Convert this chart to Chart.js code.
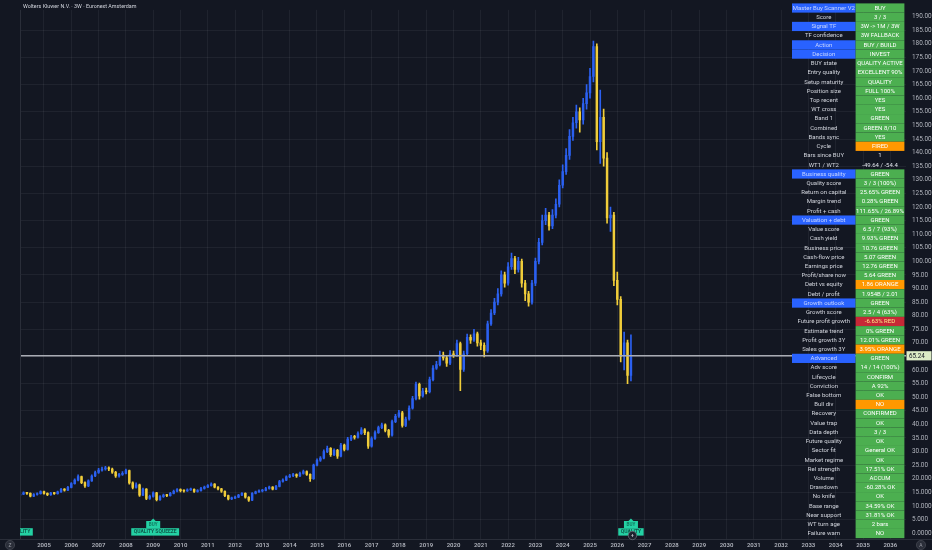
<!DOCTYPE html>
<html>
<head>
<meta charset="utf-8">
<script src="https://cdn.jsdelivr.net/npm/chart.js@4.4.1/dist/chart.umd.min.js"></script>
<style>
  html, body { margin: 0; padding: 0; background: #131722; }
  #wrap { width: 932px; height: 550px; position: relative; }
</style>
</head>
<body>
<div id="wrap"><canvas id="price-chart"></canvas></div>
<script>
const chartTitle = 'Wolters Kluwer N.V. · 3W · Euronext Amsterdam';

// candles (one candle per 1/8 year)
const firstBarYear = 2004.125;
const barsPerYear = 8;
const firstOpen = 14.0;
const closes = [
  14.3, 14.8, 14.6, 13.6, 14.2, 14.5, 15.3, 14.6, 14.1, 14.7,
  14.5, 15.2, 16.1, 15.8, 16.8, 18.2, 19.5, 20.8, 18.6, 17.4,
  19.2, 21.0, 22.3, 23.2, 23.6, 24.0, 23.6, 22.4, 21.0, 21.6,
  22.0, 23.0, 18.5, 16.8, 17.8, 14.0, 16.2, 12.8, 13.5, 14.8,
  12.3, 13.4, 14.0, 13.8, 14.6, 15.4, 16.0, 15.6, 15.5, 15.9,
  16.1, 15.3, 15.6, 16.4, 16.9, 17.5, 18.0, 16.9, 16.3, 15.4,
  13.8, 12.6, 12.9, 13.2, 14.0, 14.6, 13.2, 12.1, 14.6, 15.2,
  15.5, 15.7, 16.4, 16.9, 16.2, 17.2, 19.0, 19.5, 20.7, 21.1,
  21.5, 21.0, 22.0, 22.6, 21.6, 20.0, 25.0, 26.8, 27.6, 30.0,
  31.2, 28.9, 30.5, 28.3, 32.4, 30.8, 34.6, 35.3, 35.2, 36.6,
  38.0, 37.0, 32.0, 34.8, 37.0, 38.8, 39.8, 37.8, 36.0, 41.0,
  43.0, 44.3, 39.6, 42.0, 46.0, 49.5, 54.7, 50.5, 52.3, 52.0,
  56.5, 60.7, 62.0, 65.5, 64.5, 62.5, 66.0, 65.5, 69.7, 60.2,
  66.0, 72.0, 71.0, 73.3, 70.0, 69.1, 67.0, 77.0, 81.0, 85.0,
  88, 95, 92, 98, 101, 97, 100, 92, 88, 85,
  92, 100, 107, 115, 117, 113, 117, 121, 128, 133,
  139, 146, 151, 155, 152, 158, 162, 168, 179, 144,
  153, 138, 116, 117, 93, 86, 65, 70, 58, 65.24
];
const highs = [
  14.8, 15.2, 15.0, 14.8, 14.5, 14.8, 15.6, 15.5, 14.8, 15.0,
  15.0, 15.5, 16.5, 16.4, 17.2, 18.6, 20.0, 21.4, 21.0, 18.9,
  19.6, 21.4, 22.8, 23.8, 24.3, 24.6, 24.4, 23.9, 22.7, 22.0,
  22.6, 23.6, 23.2, 18.9, 18.5, 18.0, 16.6, 16.4, 14.0, 15.2,
  15.0, 13.8, 14.4, 14.3, 15.0, 15.8, 16.4, 16.3, 15.9, 16.3,
  16.6, 16.3, 16.0, 16.8, 17.3, 17.9, 18.5, 18.2, 17.1, 16.5,
  15.6, 14.0, 13.3, 13.6, 14.3, 14.9, 14.8, 13.4, 14.9, 15.5,
  15.9, 16.1, 16.8, 17.3, 17.1, 17.6, 19.4, 20.0, 21.1, 21.6,
  22.0, 21.8, 22.5, 23.2, 22.9, 21.8, 25.4, 27.3, 28.2, 30.6,
  32.0, 31.5, 31.0, 30.8, 33.0, 32.8, 35.2, 36.0, 36.0, 37.3,
  38.8, 38.5, 37.3, 35.4, 37.6, 39.4, 40.5, 40.2, 38.2, 41.6,
  43.7, 45.2, 44.8, 42.7, 46.8, 50.3, 55.6, 55.2, 53.3, 53.4,
  57.4, 61.6, 63.2, 67.0, 66.6, 65.0, 67.2, 67.0, 71.0, 70.3,
  67.0, 73.2, 73.0, 75.0, 74.0, 71.0, 70.0, 78.0, 82.2, 86.4,
  90.0, 96.5, 96.0, 99.5, 103.0, 101.8, 101.5, 100.8, 93.0, 89.0,
  93.0, 101.2, 108.5, 117.0, 119.5, 118.0, 119.0, 123.0, 130.0, 135.5,
  141.5, 148.5, 153.0, 157.5, 156.5, 160.0, 165.0, 171.0, 181.0, 180.0,
  163.0, 156.0, 140.0, 120.0, 118.0, 96.0, 87.0, 74.0, 71.0, 73.0
];
const lows = [
  13.8, 14.1, 14.2, 13.3, 13.4, 14.0, 14.3, 14.3, 13.8, 13.9,
  14.2, 14.3, 15.0, 15.4, 15.6, 16.6, 18.0, 19.2, 18.2, 16.8,
  17.1, 19.0, 20.8, 22.0, 22.8, 23.2, 23.0, 22.0, 20.5, 20.6,
  21.2, 21.8, 18.0, 16.3, 16.5, 13.5, 13.8, 12.3, 12.4, 13.2,
  11.8, 12.0, 13.1, 13.4, 13.6, 14.4, 15.2, 15.2, 15.1, 15.3,
  15.7, 15.0, 15.1, 15.4, 16.2, 16.7, 17.3, 16.6, 15.9, 15.0,
  13.4, 12.2, 12.3, 12.7, 13.0, 13.8, 12.9, 11.7, 11.9, 14.4,
  15.0, 15.2, 15.5, 16.2, 15.9, 16.0, 17.0, 18.7, 19.3, 20.4,
  20.8, 20.5, 20.8, 21.7, 21.2, 19.0, 19.8, 24.7, 26.4, 27.3,
  29.6, 28.2, 28.5, 27.5, 28.0, 30.2, 30.5, 34.0, 34.6, 34.9,
  36.3, 36.2, 31.2, 31.6, 34.5, 36.7, 38.4, 37.2, 35.2, 35.7,
  40.6, 42.6, 39.0, 39.2, 41.6, 45.6, 49.0, 49.3, 50.0, 51.2,
  51.6, 56.0, 60.2, 61.5, 63.6, 61.3, 62.0, 64.6, 65.0, 52.4,
  59.5, 65.5, 69.8, 70.5, 68.8, 67.5, 64.8, 66.5, 76.4, 80.4,
  84.0, 87.2, 90.5, 91.2, 97.0, 95.5, 96.0, 90.5, 85.5, 83.5,
  84.2, 91.0, 99.0, 106.0, 113.5, 111.5, 112.0, 116.0, 120.0, 127.0,
  132.0, 137.5, 144.5, 149.0, 147.5, 150.5, 156.0, 160.0, 166.0, 141.0,
  136.0, 135.0, 114.0, 111.0, 91.0, 84.0, 63.0, 60.0, 55.0, 56.0
];
const lastPrice = 65.24;

const yearLabels = ['2005', '2006', '2007', '2008', '2009', '2010', '2011', '2012',
  '2013', '2014', '2015', '2016', '2017', '2018', '2019', '2020', '2021', '2022',
  '2023', '2024', '2025', '2026', '2027', '2028', '2029', '2030', '2031', '2032',
  '2033', '2034', '2035', '2036'];

// signal labels under the bars
const qualityBars = [0, 39, 179];
const qualityTexts = ['QUALITY', 'QUALITY SQUEEZE', 'QUALITY'];
const buyBars = [39, 179];

// scanner table
const tableLabels = [
  'Master Buy Scanner V2', 'Score', 'Signal TF', 'TF confidence', 'Action', 'Decision',
  'BUY state', 'Entry quality', 'Setup maturity', 'Position size', 'Top recent', 'WT cross',
  'Band 1', 'Combined', 'Bands sync', 'Cycle', 'Bars since BUY', 'WT1 / WT2',
  'Business quality', 'Quality score', 'Return on capital', 'Margin trend', 'Profit + cash',
  'Valuation + debt', 'Value score', 'Cash yield', 'Business price', 'Cash-flow price',
  'Earnings price', 'Profit/share now', 'Debt vs equity', 'Debt / profit',
  'Growth outlook', 'Growth score', 'Future profit growth', 'Estimate trend',
  'Profit growth 3Y', 'Sales growth 3Y',
  'Advanced', 'Adv score', 'Lifecycle', 'Conviction', 'False bottom', 'Bull div', 'Recovery',
  'Value trap', 'Data depth', 'Future quality', 'Sector fit', 'Market regime', 'Rel strength',
  'Volume', 'Drawdown', 'No knife', 'Base range', 'Near support', 'WT turn age', 'Failure warn'
];
const tableValues = [
  'BUY', '3 / 3', '3W -> 1M / 3W', '3W FALLBACK', 'BUY / BUILD', 'INVEST',
  'QUALITY ACTIVE', 'EXCELLENT 90%', 'QUALITY', 'FULL 100%', 'YES', 'YES',
  'GREEN', 'GREEN 8/10', 'YES', 'FIRED', '1', '-49.64 / -54.4',
  'GREEN', '3 / 3 (100%)', '25.65% GREEN', '0.28% GREEN', '111.65% / 26.89%',
  'GREEN', '6.5 / 7 (93%)', '9.93% GREEN', '10.76 GREEN', '5.07 GREEN',
  '12.76 GREEN', '5.64 GREEN', '1.86 ORANGE', '1.954B / 2.01',
  'GREEN', '2.5 / 4 (63%)', '-6.63% RED', '0% GREEN',
  '12.01% GREEN', '3.95% ORANGE',
  'GREEN', '14 / 14 (100%)', 'CONFIRM', 'A 92%', 'OK', 'NO', 'CONFIRMED',
  'OK', '3 / 3', 'OK', 'General OK', 'OK', '17.51% OK',
  'ACCUM', '-60.28% OK', 'OK', '34.59% OK', '31.81% OK', '2 bars', 'NO'
];
const sectionRows = ['Master Buy Scanner V2', 'Signal TF', 'Action', 'Decision',
  'Business quality', 'Valuation + debt', 'Growth outlook', 'Advanced'];
const orangeRows = ['Cycle', 'Debt vs equity', 'Sales growth 3Y', 'Bull div'];
const redRows = ['Future profit growth'];
const plainRows = ['Bars since BUY', 'WT1 / WT2'];

// colours
const bg = '#131722';
const upColor = '#2b60f0';
const downColor = '#f0cd3a';
const gridColor = 'rgba(255,255,255,0.055)';
const axisText = '#b2b5be';
const teal = '#24d1a4';

const xMin = 2004.121, xMax = 2036.575;
const yMin = -2.167, yMax = 192.53;

const barYears = closes.map((_, i) => firstBarYear + i / barsPerYear);
const opens = closes.map((c, i) => i === 0 ? firstOpen : closes[i - 1]);
const rising = closes.map((c, i) => c >= opens[i]);
const candleColor = (ctx) => rising[ctx.dataIndex] ? upColor : downColor;

const priceLabel = (v) => {
    if (v === 0) return '0.0000';
    if (v < 25) return v.toFixed(3);
    return v.toFixed(2);
};

const backdrop = {
    id: 'backdrop',
    beforeDraw(chart) {
        const { ctx, width, height } = chart;
        ctx.save();
        ctx.fillStyle = bg;
        ctx.fillRect(0, 0, width, height);
        ctx.restore();
    }
};

const overlay = {
    id: 'overlay',
    afterDraw(chart) {
        const { ctx, chartArea: area, scales } = chart;
        const xs = scales.x, ys = scales.y;
        ctx.save();

        // frame lines
        ctx.strokeStyle = '#2a2e39';
        ctx.lineWidth = 1;
        ctx.beginPath();
        ctx.moveTo(0, area.bottom + 0.5);
        ctx.lineTo(chart.width, area.bottom + 0.5);
        ctx.moveTo(area.left + 0.5, area.top);
        ctx.lineTo(area.left + 0.5, area.bottom);
        ctx.stroke();

        // title
        ctx.fillStyle = '#d1d4dc';
        ctx.font = '5.4px Roboto';
        ctx.textBaseline = 'middle';
        ctx.textAlign = 'left';
        ctx.fillText(chartTitle, area.left + 3, 7);

        // signal labels
        ctx.save();
        ctx.beginPath();
        ctx.rect(area.left, area.top, area.right - area.left, area.bottom - area.top);
        ctx.clip();
        ctx.textAlign = 'center';
        buyBars.forEach((b) => {
            const cx = xs.getPixelForValue(barYears[b]);
            ctx.fillStyle = teal;
            ctx.beginPath();
            ctx.moveTo(cx, 518.5);
            ctx.lineTo(cx + 2.5, 521);
            ctx.lineTo(cx - 2.5, 521);
            ctx.closePath();
            ctx.fill();
            ctx.fillRect(cx - 7, 521, 14, 7.2);
            ctx.fillStyle = '#117a60';
            ctx.font = 'bold 4.6px Roboto';
            ctx.fillText('BUY', cx, 524.8);
        });
        qualityBars.forEach((b, k) => {
            const cx = xs.getPixelForValue(barYears[b]) + (k === 1 ? 2 : 0);
            ctx.font = 'bold 5px Roboto';
            const w = ctx.measureText(qualityTexts[k]).width + 5;
            ctx.fillStyle = teal;
            ctx.fillRect(cx - w / 2, 528.2, w, 7.4);
            ctx.fillStyle = '#0e5a4c';
            ctx.fillText(qualityTexts[k], cx, 532.1);
        });
        ctx.restore();

        // event badge on the last bar
        const lx = xs.getPixelForValue(barYears[barYears.length - 1]) + 1.5;
        ctx.fillStyle = '#1e222d';
        ctx.strokeStyle = '#6a6d78';
        ctx.lineWidth = 0.8;
        ctx.beginPath();
        ctx.arc(lx, 535.5, 4.2, 0, Math.PI * 2);
        ctx.fill();
        ctx.stroke();
        ctx.fillStyle = '#c8cad0';
        ctx.font = 'bold 5px Roboto';
        ctx.textAlign = 'center';
        ctx.fillText('+', lx, 535.7);

        // last price tag
        const py = ys.getPixelForValue(lastPrice);
        ctx.fillStyle = '#dcebc6';
        ctx.fillRect(area.right + 0.5, py - 4.6, 25, 9.2);
        ctx.fillStyle = '#131722';
        ctx.font = '6.3px Roboto';
        ctx.textAlign = 'left';
        ctx.fillText(lastPrice.toFixed(2), area.right + 3, py + 0.3);

        // corner icons
        [[10, 545, 'Z'], [921, 545, 'A']].forEach(([cx, cy, t]) => {
            ctx.fillStyle = '#2a2e39';
            ctx.strokeStyle = '#434651';
            ctx.beginPath();
            ctx.arc(cx, cy, 4.6, 0, Math.PI * 2);
            ctx.fill();
            ctx.stroke();
            ctx.fillStyle = '#9598a1';
            ctx.font = '5px Roboto';
            ctx.textAlign = 'center';
            ctx.fillText(t, cx, cy + 0.3);
        });

        // scanner table
        const rowH = 9.22, top = 3.4;
        const labelX = 792, labelW = 63.6, valueX = 855.6, valueW = 48.8;
        ctx.font = '6px Roboto';
        ctx.textAlign = 'center';
        tableLabels.forEach((label, r) => {
            const y0 = top + r * rowH;
            const cy = y0 + rowH / 2 + 0.3;
            const isSection = sectionRows.includes(label);
            if (isSection) {
                ctx.fillStyle = '#2962ff';
                ctx.fillRect(labelX, y0, labelW, rowH);
            }
            let cell = '#4caf50', txt = '#ffffff';
            if (orangeRows.includes(label)) cell = '#ff9800';
            if (redRows.includes(label)) { cell = '#c62836'; txt = '#ffe98a'; }
            if (plainRows.includes(label)) { cell = null; txt = '#e0e3eb'; }
            if (cell) {
                ctx.fillStyle = cell;
                ctx.fillRect(valueX, y0, valueW, rowH);
            }
            ctx.fillStyle = isSection ? '#c9d6ff' : '#d1d4dc';
            ctx.fillText(label, labelX + labelW / 2, cy);
            ctx.fillStyle = txt;
            ctx.fillText(tableValues[r], valueX + valueW / 2, cy);
        });

        ctx.restore();
    }
};

new Chart(document.getElementById('price-chart'), {
    type: 'bar',
    data: {
        datasets: [
            {
                type: 'line',
                data: [{ x: xMin, y: lastPrice }, { x: xMax, y: lastPrice }],
                borderColor: '#a9acb4',
                borderWidth: 1.5,
                pointRadius: 0,
                order: 0
            },
            {
                data: barYears.map((x, i) => ({ x, y: [opens[i], closes[i]] })),
                backgroundColor: candleColor,
                barThickness: 1.8,
                minBarLength: 1,
                grouped: false,
                order: 1
            },
            {
                data: barYears.map((x, i) => ({ x, y: [lows[i], highs[i]] })),
                backgroundColor: candleColor,
                barThickness: 1,
                grouped: false,
                order: 2
            }
        ]
    },
    options: {
        responsive: true,
        maintainAspectRatio: false,
        animation: false,
        layout: { padding: { left: 20, top: 0, right: 0, bottom: 0 } },
        plugins: { legend: { display: false }, tooltip: { enabled: false } },
        scales: {
            x: {
                type: 'linear',
                min: xMin,
                max: xMax,
                offset: false,
                afterFit: (s) => { s.height = 11; },
                border: { display: false },
                grid: { color: gridColor, drawTicks: false, offset: false },
                ticks: {
                    stepSize: 1,
                    includeBounds: false,
                    autoSkip: false,
                    maxRotation: 0,
                    padding: 3,
                    color: axisText,
                    font: { family: 'Roboto', size: 6, weight: '600' },
                    callback: (v) => yearLabels[v - 2005] ?? ''
                }
            },
            y: {
                type: 'linear',
                position: 'right',
                min: yMin,
                max: yMax,
                afterFit: (s) => { s.width = 26; },
                border: { display: false },
                grid: {
                    drawTicks: false,
                    color: (c) => (c.tick && Math.round(c.tick.value) % 10 === 5) ? gridColor : 'transparent'
                },
                ticks: {
                    stepSize: 5,
                    includeBounds: false,
                    autoSkip: false,
                    padding: 6,
                    color: axisText,
                    font: { family: 'Roboto', size: 6.4 },
                    callback: (v) => priceLabel(v)
                }
            }
        }
    },
    plugins: [backdrop, overlay]
});
</script>
</body>
</html>
